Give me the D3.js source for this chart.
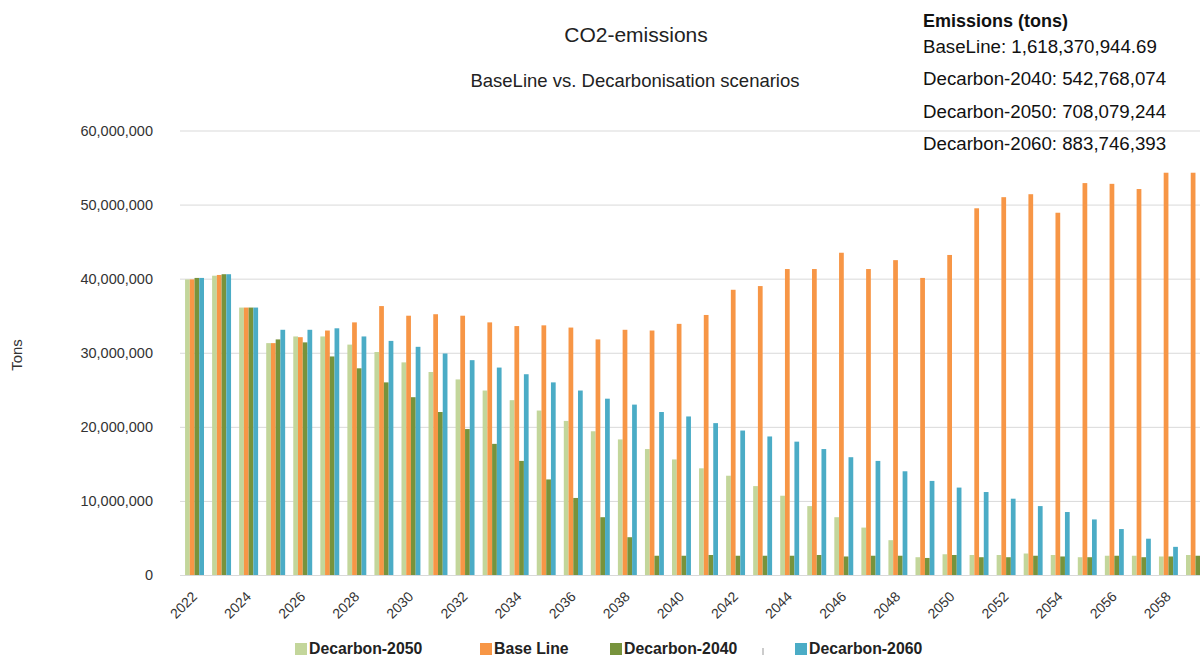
<!DOCTYPE html>
<html>
<head>
<meta charset="utf-8">
<script src="https://cdn.jsdelivr.net/npm/d3@7"></script>
<style>
  body { margin: 0; background: #fff; }
  svg { display: block; font-family: "Liberation Sans", Arial, sans-serif; }
  .grid line { stroke: #d9d9d9; }
  .axis text { fill: #333; }
</style>
</head>
<body>
<div id="chart"></div>
<script>
const years = d3.range(2022, 2060);
const seriesKeys = ['Decarbon-2050', 'Base Line', 'Decarbon-2040', 'Decarbon-2060'];
const seriesColors = ['#c3d69b', '#f79646', '#77933c', '#4bacc6'];

// values in millions of tons
const decarbon2050 = [39.9, 40.4, 36.1, 31.3, 32.2, 32.2, 31.1, 30.1, 28.7, 27.4,
  26.4, 24.9, 23.6, 22.2, 20.8, 19.4, 18.3, 17.0, 15.6, 14.4,
  13.4, 12.0, 10.7, 9.3, 7.8, 6.4, 4.7, 2.4, 2.8, 2.7,
  2.7, 2.9, 2.7, 2.4, 2.6, 2.6, 2.5, 2.7];
const baseLine = [39.9, 40.5, 36.1, 31.3, 32.1, 33.0, 34.1, 36.3, 35.0, 35.2,
  35.0, 34.1, 33.6, 33.7, 33.4, 31.8, 33.1, 33.0, 33.9, 35.1,
  38.5, 39.0, 41.3, 41.3, 43.5, 41.3, 42.5, 40.1, 43.2, 49.5,
  51.0, 51.4, 48.9, 52.9, 52.8, 52.1, 54.3, 54.3];
const decarbon2040 = [40.1, 40.6, 36.1, 31.8, 31.4, 29.5, 27.9, 26.0, 24.0, 22.0,
  19.7, 17.7, 15.4, 12.9, 10.4, 7.8, 5.1, 2.6, 2.6, 2.7,
  2.6, 2.6, 2.6, 2.7, 2.5, 2.6, 2.6, 2.3, 2.7, 2.4,
  2.4, 2.6, 2.5, 2.4, 2.6, 2.4, 2.5, 2.6];
const decarbon2060 = [40.1, 40.6, 36.1, 33.1, 33.1, 33.3, 32.2, 31.6, 30.8, 29.9,
  29.0, 28.0, 27.1, 26.0, 24.9, 23.8, 23.0, 22.0, 21.4, 20.5,
  19.5, 18.7, 18.0, 17.0, 15.9, 15.4, 14.0, 12.7, 11.8, 11.2,
  10.3, 9.3, 8.5, 7.5, 6.2, 4.9, 3.8, 2.6];

const yTicks = [0, 10e6, 20e6, 30e6, 40e6, 50e6, 60e6];
const totalLines = [
  'BaseLine: 1,618,370,944.69',
  'Decarbon-2040: 542,768,074',
  'Decarbon-2050: 708,079,244',
  'Decarbon-2060: 883,746,393'
];

const seriesValues = [decarbon2050, baseLine, decarbon2040, decarbon2060];
const rows = years.map((yr, i) => ({
  year: yr,
  values: seriesKeys.map((k, j) => ({ key: k, value: seriesValues[j][i] * 1e6 }))
}));

const width = 1200, height = 656;
const svg = d3.select('#chart').append('svg')
  .attr('width', width)
  .attr('height', height);

const x = d3.scaleBand()
  .domain(years)
  .range([181, 1209])
  .paddingInner(0.3)
  .paddingOuter(0.15);

const xSub = d3.scaleBand()
  .domain(seriesKeys)
  .range([0, x.bandwidth()]);

const y = d3.scaleLinear()
  .domain([0, 60e6])
  .range([575, 130.5]);

const color = d3.scaleOrdinal().domain(seriesKeys).range(seriesColors);

// gridlines
svg.append('g')
  .attr('class', 'grid')
  .attr('transform', 'translate(180,0)')
  .call(d3.axisLeft(y).tickValues(yTicks).tickSize(-1030).tickFormat(''))
  .call(g => g.select('.domain').remove());

// y axis labels
svg.append('g')
  .attr('class', 'axis')
  .attr('transform', 'translate(156,0)')
  .call(d3.axisLeft(y).tickValues(yTicks).tickSize(0).tickFormat(d3.format(',')))
  .call(g => g.select('.domain').remove())
  .selectAll('text')
  .attr('font-size', 14.5);

svg.append('text')
  .attr('transform', 'translate(22,355) rotate(-90)')
  .attr('text-anchor', 'middle')
  .attr('font-size', 15)
  .attr('fill', '#333')
  .text('Tons');

// bars
svg.append('g')
  .selectAll('g')
  .data(rows)
  .join('g')
  .attr('transform', d => `translate(${x(d.year)},0)`)
  .selectAll('rect')
  .data(d => d.values)
  .join('rect')
  .attr('x', d => xSub(d.key))
  .attr('y', d => y(d.value))
  .attr('width', xSub.bandwidth())
  .attr('height', d => y(0) - y(d.value))
  .attr('fill', d => color(d.key));

// x axis
const xAxisG = svg.append('g')
  .attr('class', 'axis')
  .attr('transform', 'translate(0,590)')
  .call(d3.axisBottom(x).tickValues(years.filter(d => d % 2 === 0)).tickSize(0))
  .call(g => g.select('.domain').remove());

xAxisG.selectAll('.tick text')
  .attr('font-size', 14)
  .attr('x', 0)
  .attr('y', 0)
  .attr('dy', '0.75em')
  .attr('text-anchor', 'end')
  .attr('transform', 'translate(-4,0) rotate(-45)');

// titles
svg.append('text')
  .attr('x', 636).attr('y', 42)
  .attr('text-anchor', 'middle')
  .attr('font-size', 21)
  .attr('fill', '#222')
  .text('CO2-emissions');

svg.append('text')
  .attr('x', 635).attr('y', 87)
  .attr('text-anchor', 'middle')
  .attr('font-size', 18.5)
  .attr('fill', '#222')
  .text('BaseLine vs. Decarbonisation scenarios');

// totals box
const info = svg.append('g').attr('transform', 'translate(923,0)');
info.append('text')
  .attr('y', 27)
  .attr('font-size', 18)
  .attr('font-weight', 'bold')
  .attr('fill', '#111')
  .text('Emissions (tons)');
info.selectAll('.total')
  .data(totalLines)
  .join('text')
  .attr('class', 'total')
  .attr('y', (d, i) => 53 + i * 32.4)
  .attr('font-size', 18.7)
  .attr('fill', '#111')
  .text(d => d);

// legend
const legendX = [295, 480, 610, 795];
const legend = svg.append('g');
const item = legend.selectAll('g')
  .data(seriesKeys)
  .join('g')
  .attr('transform', (d, i) => `translate(${legendX[i]},643)`);
item.append('rect')
  .attr('width', 12).attr('height', 12)
  .attr('fill', d => color(d));
item.append('text')
  .attr('x', 14).attr('y', 11)
  .attr('font-size', 15.8)
  .attr('font-weight', 'bold')
  .attr('fill', '#222')
  .text(d => d);
legend.append('line')
  .attr('x1', 763).attr('x2', 763)
  .attr('y1', 648).attr('y2', 655)
  .attr('stroke', '#999');
</script>
</body>
</html>
